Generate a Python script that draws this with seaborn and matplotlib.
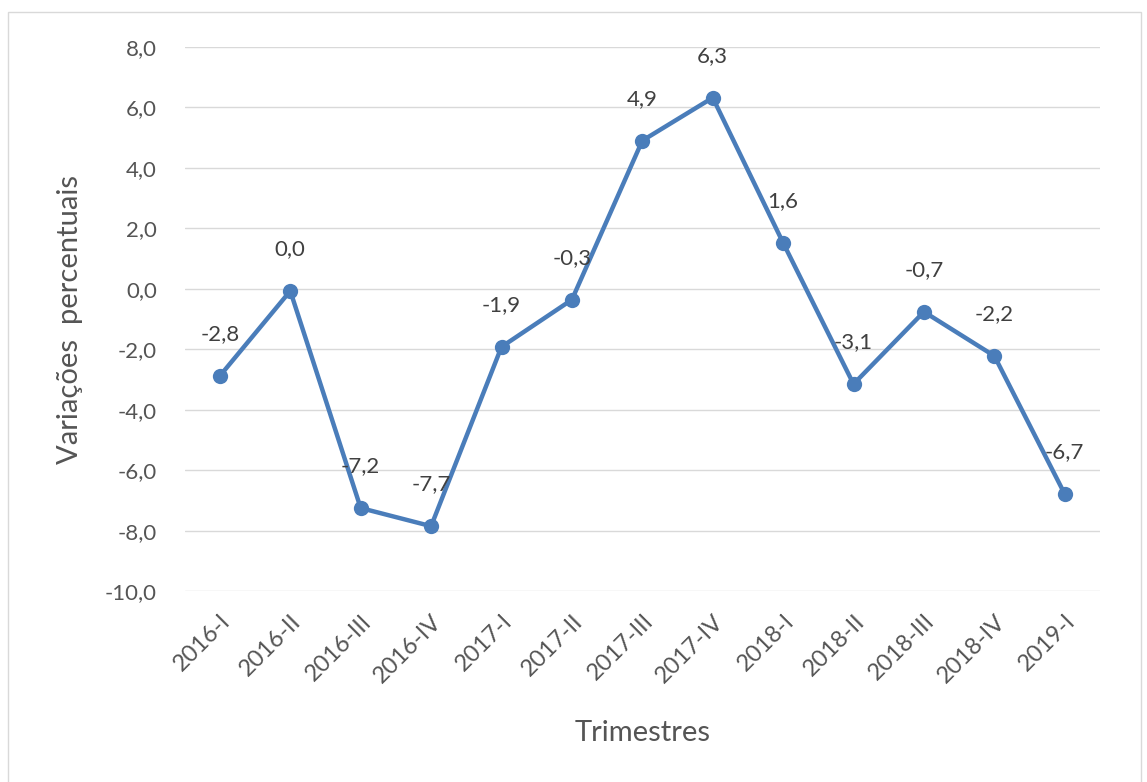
import matplotlib
matplotlib.use("Agg")
import matplotlib.pyplot as plt
import seaborn as sns
import pandas as pd
from matplotlib.patches import Rectangle

# Quarterly percentage changes
quarters = ["2016-I", "2016-II", "2016-III", "2016-IV", "2017-I", "2017-II", "2017-III",
            "2017-IV", "2018-I", "2018-II", "2018-III", "2018-IV", "2019-I"]
values = [-2.88, -0.07, -7.25, -7.85, -1.92, -0.36, 4.9, 6.32, 1.52, -3.15, -0.76, -2.22, -6.79]
labels = ["-2,8", "0,0", "-7,2", "-7,7", "-1,9", "-0,3", "4,9", "6,3", "1,6", "-3,1", "-0,7", "-2,2", "-6,7"]
yticks = [-10, -8, -6, -4, -2, 0, 2, 4, 6, 8]

df = pd.DataFrame({"trimestre": quarters, "variacao": values})

sns.set_style("white")
plt.rcParams["font.family"] = ["Lato", "DejaVu Sans"]

fig = plt.figure(figsize=(11.47, 7.82), dpi=100)
ax = fig.add_axes([0.161, 0.244, 0.798, 0.696])

line_color = "#4a7dba"
sns.lineplot(data=df, x="trimestre", y="variacao", ax=ax, sort=False, color=line_color,
             linewidth=3.2, marker="o", markersize=11, markeredgewidth=0)

for i, (v, lab) in enumerate(zip(values, labels)):
    ax.annotate(lab, (i, v), xytext=(0, 30), textcoords="offset points",
                ha="center", va="center", fontsize=16, color="#404040")

ax.set_ylim(-10, 8)
ax.set_xlim(-0.5, len(quarters) - 0.5)
ax.set_yticks(yticks)
ax.set_yticklabels([f"{t:.1f}".replace(".", ",") for t in yticks], fontsize=16, color="#555555")
ax.set_xticks(range(len(quarters)))
ax.set_xticklabels(quarters, rotation=45, ha="right", rotation_mode="anchor",
                   fontsize=17, color="#555555")
ax.tick_params(axis="y", length=0, pad=20)
ax.tick_params(axis="x", length=0, pad=14)

ax.grid(axis="y", color="#d9d9d9", linewidth=1)
ax.set_axisbelow(True)
for s in ax.spines.values():
    s.set_visible(False)

ax.set_xlabel("Trimestres", fontsize=21, color="#555555", labelpad=24)
ax.set_ylabel("Variações  percentuais", fontsize=21, color="#555555", labelpad=16)

# outer chart border
fig.patches.append(Rectangle((0.007, -0.01), 0.988, 0.995, transform=fig.transFigure,
                             fill=False, edgecolor="#d9d9d9", linewidth=1))

fig.savefig("out.png", dpi=100)
